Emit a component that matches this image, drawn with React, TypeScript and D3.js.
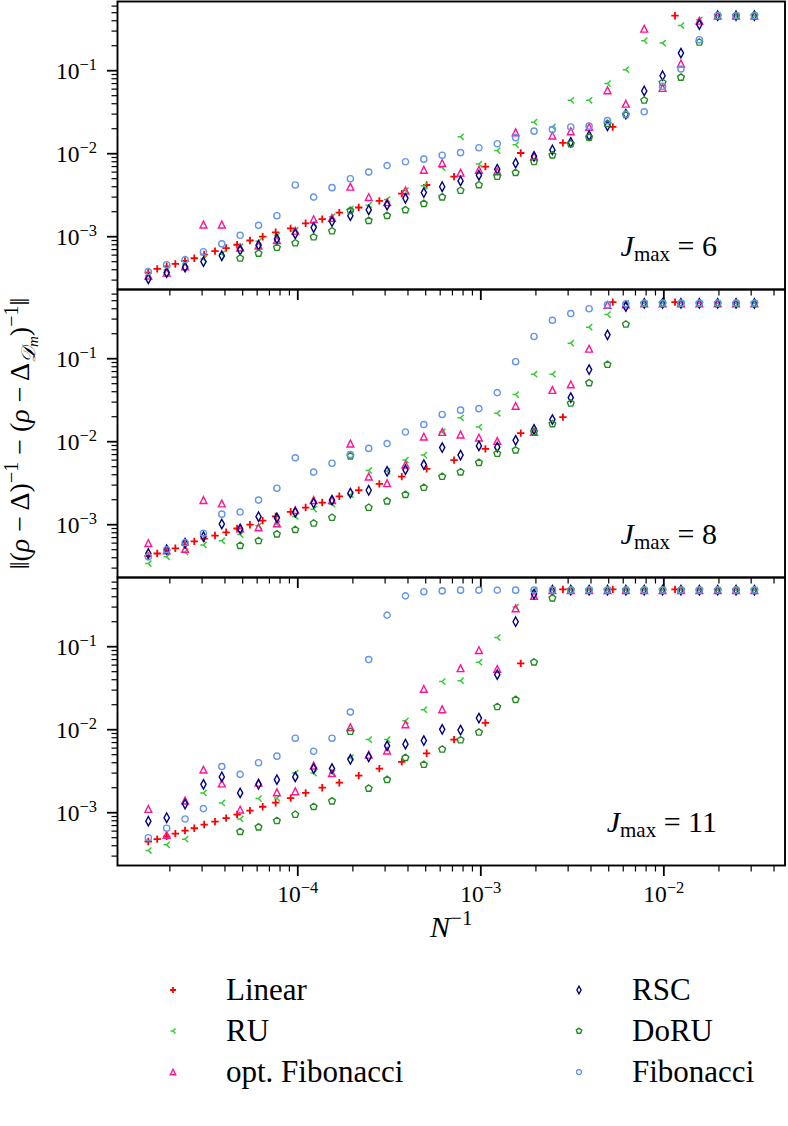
import React from "react";
import * as d3 from "d3";

// ---------- data ----------
const xGrid = [1.526e-5, 1.922e-5, 2.422e-5, 3.052e-5, 3.845e-5, 4.844e-5, 6.104e-5, 7.69e-5, 9.689e-5, 1.221e-4, 1.538e-4, 1.938e-4, 2.441e-4, 3.076e-4, 3.875e-4, 4.883e-4, 6.152e-4, 7.751e-4, 9.766e-4, 1.23e-3, 1.55e-3, 1.953e-3, 2.461e-3, 3.101e-3, 3.906e-3, 4.922e-3, 6.201e-3, 7.813e-3, 9.843e-3, 1.24e-2, 1.563e-2, 1.969e-2, 2.48e-2, 3.125e-2];
const xLinear = [1.524e-5, 1.706e-5, 1.922e-5, 2.143e-5, 2.42e-5, 2.72e-5, 3.08e-5, 3.53e-5, 4.06e-5, 4.66e-5, 5.48e-5, 6.43e-5, 7.57e-5, 9.14e-5, 1.104e-4, 1.36e-4, 1.686e-4, 2.153e-4, 2.79e-4, 3.7e-4, 5.06e-4, 7.14e-4, 1.059e-3, 1.652e-3, 2.81e-3, 5.26e-3, 1.151e-2];

// J_max = 6
const linearJ6 = [3.7e-4, 4.1e-4, 4.4e-4, 4.7e-4, 5.1e-4, 5.5e-4, 6.1e-4, 6.7e-4, 7.3e-4, 8.0e-4, 9.0e-4, 1.0e-3, 1.13e-3, 1.26e-3, 1.45e-3, 1.63e-3, 1.95e-3, 2.25e-3, 2.7e-3, 3.3e-3, 4.2e-3, 5.3e-3, 7.0e-3, 1.02e-2, 1.35e-2, 2.1e-2, 0.46];
const ruJ6 = [3.4e-4, 4.0e-4, 4.7e-4, 5.4e-4, 6.2e-4, 7.6e-4, 8.8e-4, 1.03e-3, 1.2e-3, 1.45e-3, 1.74e-3, 2.15e-3, 2.4e-3, 2.8e-3, 3.6e-3, 4.1e-3, 6.8e-3, 1.6e-2, 7.5e-3, 1.09e-2, 1.28e-2, 2.4e-2, 2.1e-2, 4.4e-2, 4.4e-2, 7.0e-2, 0.103, 0.23, 0.215, 0.35, 0.41, 0.46, 0.46, 0.46];
const optFibJ6 = [3.4e-4, 3.7e-4, 4.4e-4, 1.4e-3, 1.4e-3, 7.4e-4, 7.8e-4, 9.1e-4, 1.18e-3, 1.63e-3, 1.68e-3, 4.0e-3, 3.0e-3, 2.6e-3, 3.6e-3, 6.4e-3, 7.7e-3, 5.9e-3, 6.4e-3, 6.1e-3, 1.81e-2, 9.3e-3, 1.65e-2, 1.86e-2, 2.1e-2, 5.8e-2, 4.0e-2, 0.32, 6.2e-2, 0.122, 0.4, 0.46, 0.46, 0.46];
const rscJ6 = [3.1e-4, 3.7e-4, 4.3e-4, 5.0e-4, 5.9e-4, 6.9e-4, 7.9e-4, 9.4e-4, 1.08e-3, 1.29e-3, 1.52e-3, 1.79e-3, 2.1e-3, 2.4e-3, 2.9e-3, 3.4e-3, 4.0e-3, 4.7e-3, 5.5e-3, 6.5e-3, 7.7e-3, 9.3e-3, 1.11e-2, 1.37e-2, 1.65e-2, 2.17e-2, 3.0e-2, 5.7e-2, 8.7e-2, 0.163, 0.36, 0.46, 0.46, 0.46];
const doruJ6 = [null, null, null, null, null, 5.5e-4, 6.3e-4, 7.4e-4, 8.4e-4, 9.9e-4, 1.17e-3, 2.06e-3, 1.56e-3, 1.79e-3, 2.1e-3, 2.5e-3, 3.0e-3, 3.6e-3, 4.2e-3, 5.3e-3, 5.9e-3, 8.0e-3, 9.6e-3, 1.31e-2, 1.57e-2, 2.3e-2, 2.95e-2, 4.4e-2, 7.2e-2, 8.3e-2, 0.22, 0.46, 0.46, 0.46];
const fibJ6 = [3.8e-4, 4.6e-4, 5.3e-4, 6.6e-4, 8.2e-4, 1.04e-3, 1.37e-3, 1.79e-3, 4.2e-3, 3.0e-3, 3.9e-3, 5.0e-3, 6.0e-3, 7.2e-3, 8.0e-3, 8.6e-3, 9.6e-3, 1.03e-2, 1.18e-2, 1.32e-2, 1.56e-2, 1.87e-2, 1.96e-2, 2.1e-2, 2.15e-2, 2.5e-2, 3.0e-2, 3.2e-2, 6.5e-2, 0.105, 0.236, 0.46, 0.46, 0.46];

// J_max = 8
const linearJ8 = [4.2e-4, 4.5e-4, 4.9e-4, 5.2e-4, 5.7e-4, 6.3e-4, 6.8e-4, 7.4e-4, 8.1e-4, 9.0e-4, 1.0e-3, 1.12e-3, 1.26e-3, 1.43e-3, 1.61e-3, 1.85e-3, 2.2e-3, 2.6e-3, 3.1e-3, 3.8e-3, 4.7e-3, 6.0e-3, 8.2e-3, 1.27e-2, 1.98e-2, 0.48, 0.48];
const ruJ8 = [3.4e-4, 4.1e-4, 4.7e-4, 5.7e-4, 6.4e-4, 7.6e-4, 9.7e-4, 1.02e-3, 1.26e-3, 1.54e-3, 1.77e-3, 2.3e-3, 4.5e-3, 4.4e-3, 6.0e-3, 6.9e-3, 1.31e-2, 1.94e-2, 1.5e-2, 2.2e-2, 3.7e-2, 6.5e-2, 6.5e-2, 0.154, 0.24, 0.34, 0.465, 0.465, 0.465, 0.465, 0.465, 0.465, 0.465, 0.465];
const optFibJ8 = [6.0e-4, 4.9e-4, 5.1e-4, 1.98e-3, 1.8e-3, 9.0e-4, 9.3e-4, 1.04e-3, 1.5e-3, 1.98e-3, 1.98e-3, 9.5e-3, 3.8e-3, 3.16e-3, 5.3e-3, 1.15e-2, 1.31e-2, 1.22e-2, 1.12e-2, 1.02e-2, 2.7e-2, 1.31e-2, 4.2e-2, 4.9e-2, 0.132, 0.445, 0.45, 0.465, 0.465, 0.465, 0.465, 0.465, 0.465, 0.465];
const rscJ8 = [4.5e-4, 5.0e-4, 6.0e-4, 7.2e-4, 1.02e-3, 8.9e-4, 1.25e-3, 1.21e-3, 1.41e-3, 1.82e-3, 1.98e-3, 2.4e-3, 2.6e-3, 4.4e-3, 4.6e-3, 5.3e-3, 8.5e-3, 6.9e-3, 8.9e-3, 8.6e-3, 1.04e-2, 1.41e-2, 1.85e-2, 3.4e-2, 7.4e-2, 0.194, 0.425, 0.465, 0.465, 0.465, 0.465, 0.465, 0.465, 0.465];
const doruJ8 = [null, null, null, null, null, 5.6e-4, 6.4e-4, 7.7e-4, 8.7e-4, 1.04e-3, 1.22e-3, 6.7e-3, 1.61e-3, 1.92e-3, 2.3e-3, 2.8e-3, 3.8e-3, 4.3e-3, 5.6e-3, 7.2e-3, 7.9e-3, 1.31e-2, 1.64e-2, 2.9e-2, 5.1e-2, 8.5e-2, 0.26, 0.465, 0.465, 0.465, 0.465, 0.465, 0.465, 0.465];
const fibJ8 = [4.1e-4, 5.0e-4, 6.1e-4, 7.9e-4, 1.34e-3, 1.42e-3, 1.98e-3, 2.75e-3, 6.4e-3, 4.3e-3, 5.5e-3, 7.0e-3, 8.3e-3, 9.5e-3, 1.31e-2, 1.61e-2, 2.13e-2, 2.4e-2, 2.5e-2, 3.9e-2, 9.2e-2, 0.185, 0.29, 0.35, 0.4, 0.445, 0.46, 0.465, 0.465, 0.465, 0.465, 0.465, 0.465, 0.465];

// J_max = 11
const linearJ11 = [4.5e-4, 4.8e-4, 5.2e-4, 5.6e-4, 6.1e-4, 6.5e-4, 7.2e-4, 7.8e-4, 8.6e-4, 9.5e-4, 1.06e-3, 1.18e-3, 1.32e-3, 1.5e-3, 1.73e-3, 2.0e-3, 2.3e-3, 2.8e-3, 3.4e-3, 4.1e-3, 5.2e-3, 7.6e-3, 1.21e-2, 6.3e-2, 0.49, 0.49, 0.49];
const ruJ11 = [3.5e-4, 4.1e-4, 4.8e-4, 1.73e-3, 1.31e-3, 8.4e-4, 1.48e-3, 1.5e-3, 3.0e-3, 3.0e-3, 3.0e-3, 4.6e-3, 7.6e-3, 7.6e-3, 1.28e-2, 1.74e-2, 3.8e-2, 3.9e-2, 6.5e-2, 0.129, 0.3, 0.48, 0.48, 0.48, 0.48, 0.48, 0.48, 0.48, 0.48, 0.48, 0.48, 0.48, 0.48, 0.48];
const optFibJ11 = [1.11e-3, 5.4e-4, 1.4e-3, 3.3e-3, 2.25e-3, 1.09e-3, 2.3e-3, 1.76e-3, 1.81e-3, 3.7e-3, 3.0e-3, 1.07e-2, 5.0e-3, 5.6e-3, 1.16e-2, 3.1e-2, 1.76e-2, 5.5e-2, 9.1e-2, 5.4e-2, 0.29, 0.41, 0.48, 0.48, 0.48, 0.48, 0.48, 0.48, 0.48, 0.48, 0.48, 0.48, 0.48, 0.48];
const rscJ11 = [7.9e-4, 8.7e-4, 1.27e-3, 2.2e-3, 2.7e-3, 1.73e-3, 2.2e-3, 2.5e-3, 2.7e-3, 3.4e-3, 3.4e-3, 4.4e-3, 4.7e-3, 6.4e-3, 6.7e-3, 7.4e-3, 1.01e-2, 9.9e-3, 1.38e-2, 4.6e-2, 0.2, 0.43, 0.48, 0.48, 0.48, 0.48, 0.48, 0.48, 0.48, 0.48, 0.48, 0.48, 0.48, 0.48];
const doruJ11 = [null, null, null, null, null, 5.9e-4, 6.7e-4, 8.0e-4, 9.5e-4, 1.18e-3, 1.38e-3, 9.5e-3, 1.96e-3, 2.5e-3, 4.6e-3, 3.8e-3, 5.8e-3, 7.5e-3, 9.3e-3, 1.89e-2, 2.3e-2, 6.5e-2, 0.385, 0.48, 0.48, 0.48, 0.48, 0.48, 0.48, 0.48, 0.48, 0.48, 0.48, 0.48];
const fibJ11 = [5.0e-4, 6.5e-4, 8.4e-4, 1.12e-3, 3.6e-3, 2.9e-3, 4.0e-3, 4.8e-3, 7.9e-3, 5.5e-3, 7.9e-3, 1.63e-2, 7.0e-2, 0.24, 0.41, 0.46, 0.47, 0.48, 0.48, 0.48, 0.48, 0.48, 0.48, 0.48, 0.48, 0.48, 0.48, 0.48, 0.48, 0.48, 0.48, 0.48, 0.48, 0.48];

const jmaxLabels = ["6", "8", "11"];
const xMajorTicks = [1e-4, 1e-3, 1e-2];
const xMajorLabels = ["−4", "−3", "−2"];
const yMajorTicks = [1e-3, 1e-2, 1e-1];
const yMajorLabels = ["−3", "−2", "−1"];

type Kind = "plus" | "triLeft" | "triUp" | "thinDiamond" | "pentagon" | "circle";
interface SeriesDef { name: string; kind: Kind; color: string; xs: number[]; }
const seriesDefs: SeriesDef[] = [
  { name: "Linear", kind: "plus", color: "#ff0000", xs: xLinear },
  { name: "RU", kind: "triLeft", color: "#32cd32", xs: xGrid },
  { name: "opt. Fibonacci", kind: "triUp", color: "#ff1493", xs: xGrid },
  { name: "RSC", kind: "thinDiamond", color: "#000080", xs: xGrid },
  { name: "DoRU", kind: "pentagon", color: "#228b22", xs: xGrid },
  { name: "Fibonacci", kind: "circle", color: "#6495ed", xs: xGrid },
];
const panelData: (number | null)[][][] = [
  [linearJ6, ruJ6, optFibJ6, rscJ6, doruJ6, fibJ6],
  [linearJ8, ruJ8, optFibJ8, rscJ8, doruJ8, fibJ8],
  [linearJ11, ruJ11, optFibJ11, rscJ11, doruJ11, fibJ11],
];

// ---------- layout ----------
const W = 788, H = 1126;
const LEFT = 117.5, RIGHT = 785;
const PANEL_H = 288;
const panelTops = [1.5, 289.5, 577.5];
const FONT = "Liberation Serif, Times New Roman, serif";

const xScale = d3.scaleLog().domain([Math.pow(10, -4.985), Math.pow(10, -1.338)]).range([LEFT, RIGHT]);
const yScaleFor = (top: number) =>
  d3.scaleLog().domain([Math.pow(10, -3.636), Math.pow(10, -0.1663)]).range([top + PANEL_H, top]);

function minorTicks(domain: number[], decades: number[]) {
  const out: number[] = [];
  for (const d of decades) for (let k = 2; k <= 9; k++) {
    const v = k * Math.pow(10, d);
    if (v >= domain[0] && v <= domain[1]) out.push(v);
  }
  return out;
}

function markerPath(kind: Kind, cx: number, cy: number, s = 1): string {
  switch (kind) {
    case "plus": {
      const r = 3.7 * s;
      return `M${cx - r},${cy}H${cx + r}M${cx},${cy - r}V${cy + r}`;
    }
    case "triLeft": {
      const r = 3.1 * s;
      return `M${cx},${cy}L${cx - r},${cy}M${cx},${cy}L${cx + r},${cy - r}M${cx},${cy}L${cx + r},${cy + r}`;
    }
    case "triUp": {
      const r = 3.4 * s;
      return `M${cx},${cy - r}L${cx + r},${cy + r}L${cx - r},${cy + r}Z`;
    }
    case "thinDiamond": {
      const h = 4.7 * s, w = 2.6 * s;
      return `M${cx},${cy - h}L${cx + w},${cy}L${cx},${cy + h}L${cx - w},${cy}Z`;
    }
    case "pentagon": {
      const r = 3.5 * s;
      const pts = d3.range(5).map((k) => {
        const a = (-90 + 72 * k) * Math.PI / 180;
        return `${cx + r * Math.cos(a)},${cy + r * Math.sin(a)}`;
      });
      return `M${pts.join("L")}Z`;
    }
    case "circle": {
      const r = 3.1 * s;
      return `M${cx - r},${cy}A${r},${r} 0 1 0 ${cx + r},${cy}A${r},${r} 0 1 0 ${cx - r},${cy}Z`;
    }
  }
}

function Marker({ kind, x, y, color, s = 1 }: { kind: Kind; x: number; y: number; color: string; s?: number }) {
  return (
    <path d={markerPath(kind, x, y, s)} fill="none" stroke={color}
      strokeWidth={kind === "plus" ? 1.8 : kind === "triLeft" ? 1.5 : 1.4} strokeLinejoin="miter" />
  );
}

function Panel({ idx }: { idx: number }) {
  const top = panelTops[idx];
  const y = yScaleFor(top);
  const yDom = y.domain();
  const xDom = xScale.domain();
  const xMinor = minorTicks(xDom, [-5, -4, -3, -2]);
  const yMinor = minorTicks(yDom, [-4, -3, -2, -1]);
  const bottom = top + PANEL_H;
  const isLast = idx === panelTops.length - 1;
  return (
    <g>
      {seriesDefs.map((sd, si) => (
        <g key={sd.name}>
          {panelData[idx][si].map((v, i) =>
            v == null ? null : (
              <Marker key={i} kind={sd.kind} x={xScale(sd.xs[i])} y={y(v)} color={sd.color} />
            )
          )}
        </g>
      ))}
      <rect x={LEFT} y={top} width={RIGHT - LEFT} height={PANEL_H} fill="none" stroke="#000" strokeWidth={1.9} />
      {xMajorTicks.map((t) => (
        <line key={"xM" + t} x1={xScale(t)} x2={xScale(t)} y1={bottom} y2={bottom + 10.5} stroke="#000" strokeWidth={1.8} />
      ))}
      {xMinor.map((t) => (
        <line key={"xm" + t} x1={xScale(t)} x2={xScale(t)} y1={bottom} y2={bottom + 6} stroke="#000" strokeWidth={1.2} />
      ))}
      {yMajorTicks.map((t) => (
        <line key={"yM" + t} x1={LEFT - 10.5} x2={LEFT} y1={y(t)} y2={y(t)} stroke="#000" strokeWidth={1.8} />
      ))}
      {yMinor.map((t) => (
        <line key={"ym" + t} x1={LEFT - 6} x2={LEFT} y1={y(t)} y2={y(t)} stroke="#000" strokeWidth={1.2} />
      ))}
      {yMajorTicks.map((t, i) => (
        <text key={"yl" + t} x={97} y={y(t) + 8.5} textAnchor="end" fontFamily={FONT} fontSize={23.5} fill="#000">
          <tspan>10</tspan>
          <tspan dy={-9.5} fontSize={16.5}>{yMajorLabels[i]}</tspan>
        </text>
      ))}
      {isLast && xMajorTicks.map((t, i) => (
        <text key={"xl" + t} x={xScale(t)} y={902} textAnchor="middle" fontFamily={FONT} fontSize={23.5} fill="#000">
          <tspan>10</tspan>
          <tspan dy={-9.5} fontSize={16.5}>{xMajorLabels[i]}</tspan>
        </text>
      ))}
      <text x={717} y={top + 254.5} textAnchor="end" fontFamily={FONT} fontSize={30} fill="#000">
        <tspan fontStyle="italic">J</tspan>
        <tspan dy={5} fontSize={21}>max</tspan>
        <tspan dy={-5}> = {jmaxLabels[idx]}</tspan>
      </text>
    </g>
  );
}

const legendRows = [990, 1031, 1072];
const legendCols = [{ mx: 173, tx: 226 }, { mx: 579, tx: 632 }];

export default function App() {
  return (
    <svg width={W} height={H} viewBox={`0 0 ${W} ${H}`} style={{ position: "absolute", left: 0, top: 0, background: "#fff" }}>
      <rect x={0} y={0} width={W} height={H} fill="#fff" />
      {panelTops.map((_, i) => <Panel key={i} idx={i} />)}
      <text x={(LEFT + RIGHT) / 2} y={937} textAnchor="middle" fontFamily={FONT} fontSize={30} fill="#000">
        <tspan fontStyle="italic">N</tspan>
        <tspan dy={-12} fontSize={21}>−1</tspan>
      </text>
      <text transform="translate(29,433.5) rotate(-90)" textAnchor="middle" fontFamily={FONT} fontSize={28} fill="#000">
        <tspan>‖(</tspan>
        <tspan fontStyle="italic">ρ</tspan>
        <tspan> − Δ)</tspan>
        <tspan dy={-11} fontSize={20}>−1</tspan>
        <tspan dy={11}> − (</tspan>
        <tspan fontStyle="italic">ρ</tspan>
        <tspan> − Δ</tspan>
        <tspan dy={6} fontSize={20} fontStyle="italic">𝒟</tspan>
        <tspan dy={3} fontSize={15} fontStyle="italic">m</tspan>
        <tspan dy={-9}>)</tspan>
        <tspan dy={-11} fontSize={20}>−1</tspan>
        <tspan dy={11}>‖</tspan>
      </text>
      {seriesDefs.map((sd, i) => {
        const col = legendCols[Math.floor(i / 3)];
        const ry = legendRows[i % 3];
        return (
          <g key={sd.name}>
            <Marker kind={sd.kind} x={col.mx} y={ry} color={sd.color} s={0.8} />
            <text x={col.tx} y={ry + 10} fontFamily={FONT} fontSize={31} fill="#000">{sd.name}</text>
          </g>
        );
      })}
    </svg>
  );
}
